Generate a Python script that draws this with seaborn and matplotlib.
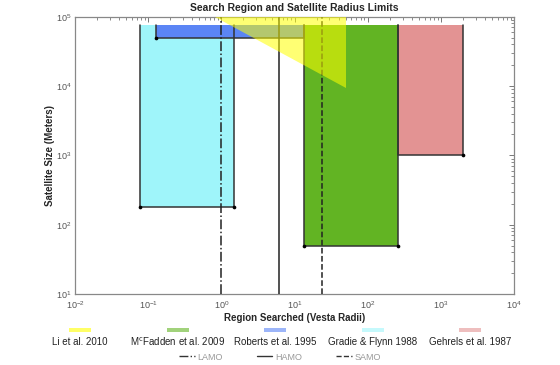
import seaborn as sns
import matplotlib.pyplot as plt
from matplotlib.patches import Rectangle
from matplotlib.lines import Line2D

# estudios (de izquierda a derecha en la leyenda)
studies = ["Li et al. 2010", r"M$^{\rm c}$Fadden et al. 2009", "Roberts et al. 1995",
           "Gradie & Flynn 1988", "Gehrels et al. 1987"]
colors = ["#ffff00", "#62b423", "#5b85f5", "#9ff5fa", "#e39393"]

# regiones rectangulares (radios de Vesta / metros)
rect_names = ["Gradie & Flynn 1988", "Roberts et al. 1995", r"M$^{\rm c}$Fadden et al. 2009", "Gehrels et al. 1987"]
rect_xmin = [0.077, 0.13, 13.6, 260]
rect_xmax = [1.5, 13.6, 260, 2000]
rect_ymin = [180, 5e4, 50, 1000]
rect_ymax = [7.5e4, 7.5e4, 7.5e4, 7.5e4]
rect_dots = [[0, 1], [0], [0, 1], [1]]   # que esquinas inferiores llevan punto

# region triangular de Li et al. 2010
li_x = [0.81, 51, 51]
li_y = [1e5, 1e5, 9300]

# orbitas de Dawn
orbits = ["LAMO", "HAMO", "SAMO"]
orbit_r = [1.0, 6.2, 24]
orbit_ls = ["-.", "-", "--"]

sns.set_style("white")
plt.rcParams['font.family'] = ['Liberation Sans', 'DejaVu Sans']

fig = plt.figure(figsize=(5.6, 3.65), dpi=100)
ax = fig.add_axes([0.1339, 0.1945, 0.784, 0.7597])
ax.set_xscale('log')
ax.set_yscale('log')

col = dict(zip(studies, colors))
for i, name in enumerate(rect_names):
    x1, x2, y1, y2 = rect_xmin[i], rect_xmax[i], rect_ymin[i], rect_ymax[i]
    ax.fill_between([x1, x2], [y1, y1], [y2, y2], color=col[name], lw=0, zorder=1 + i * 0.1)
    sns.lineplot(x=[x1, x1, x2, x2], y=[y2, y1, y1, y2], sort=False, estimator=None,
                 color='#333333', lw=1.1, ax=ax, zorder=2)
    px = [[x1, x2][k] for k in rect_dots[i]]
    sns.scatterplot(x=px, y=[y1] * len(px), color='black', s=7, linewidth=0, ax=ax, zorder=3)

for r, ls in zip(orbit_r, orbit_ls):
    ax.axvline(r, color='#222222', lw=1.1, ls=ls, zorder=4)

ax.fill(li_x, li_y, color=colors[0], alpha=0.55, lw=0, zorder=5)

ax.set_xlim(1e-2, 1e4)
ax.set_ylim(1e1, 1e5)
ax.set_title('Search Region and Satellite Radius Limits', fontsize=7.5, fontweight='bold', pad=4)
ax.set_xlabel('Region Searched (Vesta Radii)', fontsize=7, fontweight='bold', labelpad=1.5)
ax.set_ylabel('Satellite Size (Meters)', fontsize=7, fontweight='bold', labelpad=1)
ax.tick_params(which='both', direction='in', top=True, right=True, color='#777777',
               labelsize=6.5, labelcolor='#555555', pad=2.5)
ax.tick_params(axis='x', which='both', pad=3.5)
ax.tick_params(which='major', length=3.5, width=0.7)
ax.tick_params(which='minor', length=2, width=0.6)
for s in ax.spines.values():
    s.set_color('#888888')
    s.set_linewidth(0.9)

# leyenda de estudios: parche arriba y texto debajo
W, H = 560, 365
for i, (name, c) in enumerate(zip(studies, colors)):
    xc = 80 + 97.5 * i
    fig.patches.append(Rectangle(((xc - 11) / W, 1 - 332 / H), 22 / W, 4 / H,
                                 transform=fig.transFigure, color=c, alpha=0.6, lw=0))
    fig.text(xc / W, 1 - 342 / H, name, ha='center', va='center', fontsize=7, color='#222222')

handles = [Line2D([], [], color='#333333', lw=1, ls=ls) for ls in orbit_ls]
leg = fig.legend(handles, orbits, loc='center', bbox_to_anchor=(280 / W, 1 - 357 / H), ncol=3,
                 frameon=False, fontsize=6.5, handlelength=1.7, handletextpad=0.3,
                 columnspacing=3.8, borderpad=0)
for t in leg.get_texts():
    t.set_color('#999999')

fig.savefig('out.png', dpi=100)
